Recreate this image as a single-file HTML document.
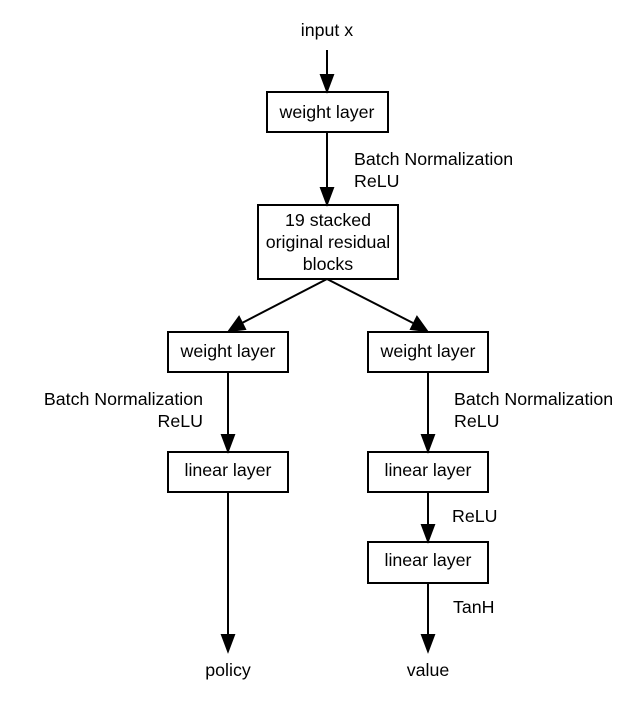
<!DOCTYPE html>
<html><head><style>
body{margin:0;background:#fff;}
svg text{font-family:"Liberation Sans",sans-serif;font-size:17.8px;fill:#000;}
</style></head><body>
<svg width="640" height="701" viewBox="0 0 640 701" xmlns="http://www.w3.org/2000/svg">
<g stroke="#000" stroke-width="2" fill="none">
<rect x="267" y="92" width="121" height="40"/>
<rect x="258" y="205" width="140" height="74"/>
<rect x="168" y="332" width="120" height="40"/>
<rect x="368" y="332" width="120" height="40"/>
<rect x="168" y="452" width="120" height="40"/>
<rect x="368" y="452" width="120" height="40"/>
<rect x="368" y="542" width="120" height="41"/>
</g>
<g stroke="#000" stroke-width="2" fill="#000">
<line x1="327" y1="50" x2="327" y2="76"/><path d="M321,75 L333,75 L327,91 z"/>
<line x1="327" y1="132" x2="327" y2="189"/><path d="M321,188 L333,188 L327,204 z"/>
<line x1="228" y1="372" x2="228" y2="436"/><path d="M222,435 L234,435 L228,451 z"/>
<line x1="428" y1="372" x2="428" y2="436"/><path d="M422,435 L434,435 L428,451 z"/>
<line x1="428" y1="492" x2="428" y2="526"/><path d="M422,525 L434,525 L428,541 z"/>
<line x1="228" y1="492" x2="228" y2="636"/><path d="M222,635 L234,635 L228,651 z"/>
<line x1="428" y1="583" x2="428" y2="636"/><path d="M422,635 L434,635 L428,651 z"/>
<line x1="327" y1="279" x2="242" y2="323"/><path d="M229,331 L239,317 L245,329 z"/>
<line x1="327" y1="279" x2="413" y2="323"/><path d="M427,331 L411,329 L417,317 z"/>
</g>
<text x="327" y="36" text-anchor="middle">input x</text>
<text x="327" y="118" text-anchor="middle">weight layer</text>
<text x="354" y="165">Batch Normalization</text>
<text x="354" y="187">ReLU</text>
<text x="328" y="226" text-anchor="middle">19 stacked</text>
<text x="328" y="248" text-anchor="middle">original residual</text>
<text x="328" y="270" text-anchor="middle">blocks</text>
<text x="228" y="357" text-anchor="middle">weight layer</text>
<text x="428" y="357" text-anchor="middle">weight layer</text>
<text x="203" y="405" text-anchor="end">Batch Normalization</text>
<text x="203" y="427" text-anchor="end">ReLU</text>
<text x="454" y="405">Batch Normalization</text>
<text x="454" y="427">ReLU</text>
<text x="228" y="476" text-anchor="middle">linear layer</text>
<text x="428" y="476" text-anchor="middle">linear layer</text>
<text x="452" y="522">ReLU</text>
<text x="428" y="566" text-anchor="middle">linear layer</text>
<text x="453" y="613">TanH</text>
<text x="228" y="676" text-anchor="middle">policy</text>
<text x="428" y="676" text-anchor="middle">value</text>
</svg>
</body></html>
